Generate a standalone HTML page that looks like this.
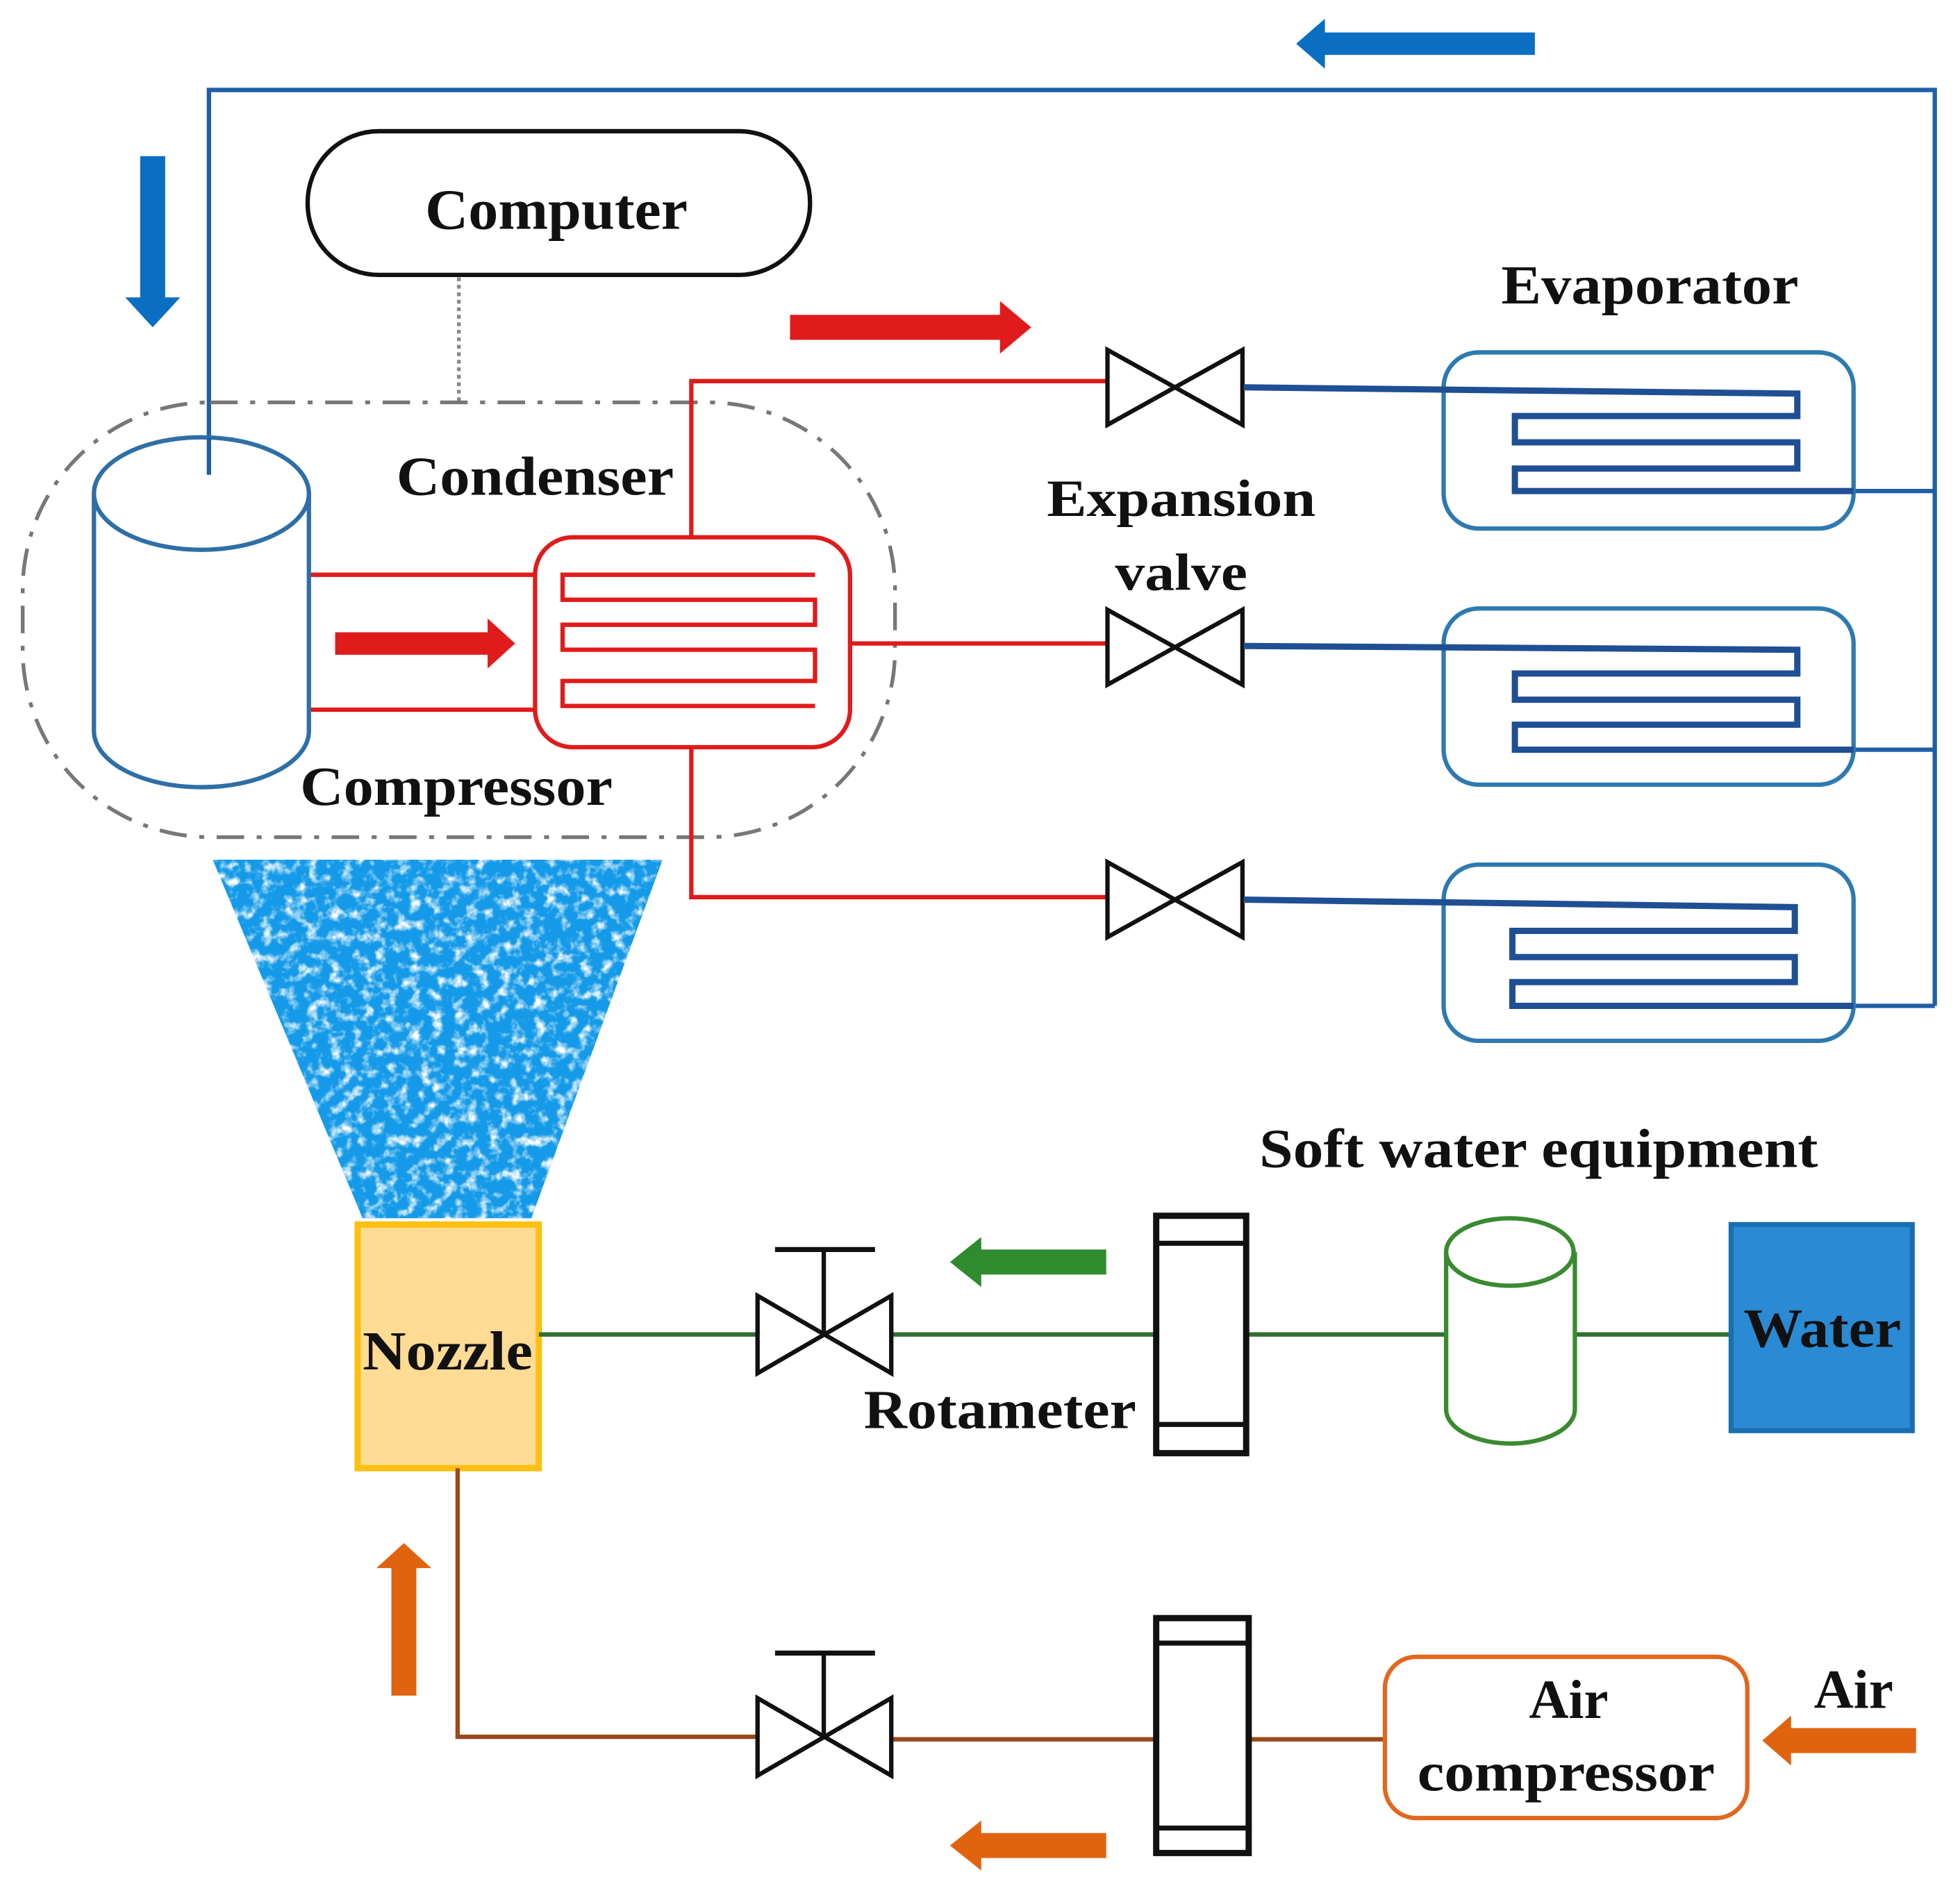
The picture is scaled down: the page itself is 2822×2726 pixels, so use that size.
<!DOCTYPE html>
<html><head><meta charset="utf-8"><style>
html,body{margin:0;padding:0;background:#fff;}
svg{display:block;}
text{font-family:"Liberation Serif",serif;font-weight:bold;fill:#111;}
</style></head><body>
<svg width="2822" height="2726" viewBox="0 0 1568 1515" xmlns="http://www.w3.org/2000/svg">
<defs>
<filter id="noise" x="0" y="0" width="100%" height="100%">
<feTurbulence type="fractalNoise" baseFrequency="0.11" numOctaves="3" seed="7"/>
<feColorMatrix type="matrix" values="0 0 0 0 1  0 0 0 0 1  0 0 0 0 1  0 0 0 3.0 -1.45"/>
</filter>
<clipPath id="cone"><polygon points="170,688 530,688 425,975 290,975"/></clipPath>
</defs>
<rect width="1568" height="1515" fill="#fff"/>

<g stroke="#1f5fa8" stroke-width="3.5" fill="none">
<polyline points="167,380 167,72 1548,72 1548,805"/>
<line x1="1483" y1="393" x2="1548" y2="393"/>
<line x1="1483" y1="600" x2="1548" y2="600"/>
<line x1="1483" y1="805" x2="1548" y2="805"/>
</g>
<polygon points="1228,26 1060,26 1060,15 1037,35 1060,55 1060,44 1228,44" fill="#0a6fc2"/>
<polygon points="112,125 132,125 132,238 144,238 122,262 100,238 112,238" fill="#0a6fc2"/>

<rect x="246" y="105" width="402" height="115" rx="57" fill="#fff" stroke="#111" stroke-width="3.5"/>
<text x="445" y="183" font-size="46" text-anchor="middle" textLength="210" lengthAdjust="spacingAndGlyphs">Computer</text>
<line x1="367" y1="222" x2="367" y2="322" stroke="#888" stroke-width="3" stroke-dasharray="3,3"/>

<rect x="18" y="322" width="698" height="348" rx="150" fill="none" stroke="#777" stroke-width="3" stroke-dasharray="22,10,4,10"/>

<g stroke="#e01b1b" stroke-width="3.5" fill="none">
<line x1="247" y1="460" x2="428" y2="460"/>
<line x1="247" y1="568" x2="428" y2="568"/>
<polyline points="553,430 553,305 885,305"/>
<line x1="680" y1="515" x2="885" y2="515"/>
<polyline points="553,598 553,718 885,718"/>
<rect x="428" y="430" width="252" height="168" rx="30"/>
<polyline points="652,460 450,460 450,480 652,480 652,500 450,500 450,520 652,520 652,545 450,545 450,565 652,565"/>
</g>
<polygon points="268,506 390,506 390,495 412,515 390,535 390,524 268,524" fill="#e01b1b"/>
<polygon points="632,252 800,252 800,241 825,262 800,283 800,272 632,272" fill="#e01b1b"/>

<g stroke="#2e6fa6" stroke-width="3.5" fill="#fff">
<path d="M75,395 L75,585 A86,45 0 0 0 247,585 L247,395"/>
<ellipse cx="161" cy="395" rx="86" ry="45"/>
</g>
<line x1="167" y1="350" x2="167" y2="380" stroke="#1f5fa8" stroke-width="3.5"/>

<text x="428" y="396" font-size="44" text-anchor="middle" textLength="222" lengthAdjust="spacingAndGlyphs">Condenser</text>
<text x="365" y="644" font-size="44" text-anchor="middle" textLength="250" lengthAdjust="spacingAndGlyphs">Compressor</text>

<g stroke="#111" stroke-width="3.5" fill="#fff">
<polygon points="886,280 994,340 994,280 886,340"/>
<polygon points="886,488 994,548 994,488 886,548"/>
<polygon points="886,690 994,750 994,690 886,750"/>
</g>
<text x="945" y="413" font-size="42" text-anchor="middle" textLength="215" lengthAdjust="spacingAndGlyphs">Expansion</text>
<text x="945" y="472" font-size="42" text-anchor="middle" textLength="106" lengthAdjust="spacingAndGlyphs">valve</text>

<text x="1320" y="243" font-size="44" text-anchor="middle" textLength="238" lengthAdjust="spacingAndGlyphs">Evaporator</text>
<g fill="none">
<g stroke="#2e7ab0" stroke-width="3.5">
<rect x="1155" y="282" width="328" height="141" rx="28"/>
<rect x="1155" y="487" width="328" height="141" rx="28"/>
<rect x="1155" y="692" width="328" height="141" rx="28"/>
</g>
<g stroke="#1f4f94" stroke-width="5">
<polyline points="995,310 1438,315 1438,333 1212,333 1212,354 1438,354 1438,375 1212,375 1212,393 1483,393"/>
<polyline points="995,517 1438,520 1438,539 1212,539 1212,560 1438,560 1438,580 1212,580 1212,600 1483,600"/>
<polyline points="995,720 1436,726 1436,745 1210,745 1210,766 1436,766 1436,786 1210,786 1210,805 1483,805"/>
</g>
</g>

<g clip-path="url(#cone)">
<rect x="160" y="680" width="380" height="300" fill="#149ae8"/>
<rect x="160" y="680" width="380" height="300" filter="url(#noise)"/>
</g>

<rect x="286" y="980" width="145" height="195" fill="#ffdb93" stroke="#fcc010" stroke-width="5"/>
<text x="358" y="1096" font-size="44" text-anchor="middle" textLength="136" lengthAdjust="spacingAndGlyphs">Nozzle</text>

<g stroke="#2f6f2f" stroke-width="3.5" fill="none">
<line x1="431" y1="1068" x2="605" y2="1068"/>
<line x1="713" y1="1068" x2="925" y2="1068"/>
<line x1="999" y1="1068" x2="1157" y2="1068"/>
<line x1="1260" y1="1068" x2="1385" y2="1068"/>
</g>
<polygon points="885,1000 785,1000 785,990 760,1010 785,1030 785,1020 885,1020" fill="#2e8b2e"/>
<g stroke="#111" stroke-width="3.5" fill="#fff">
<polygon points="606,1037 713,1099 713,1037 606,1099"/>
<line x1="659" y1="1068" x2="659" y2="1000"/>
<line x1="620" y1="1000" x2="700" y2="1000" stroke-width="4"/>
<rect x="925" y="973" width="72" height="190" stroke-width="5"/>
<line x1="925" y1="995" x2="997" y2="995" stroke-width="4"/>
<line x1="925" y1="1140" x2="997" y2="1140" stroke-width="4"/>
</g>
<text x="800" y="1143" font-size="44" text-anchor="middle" textLength="218" lengthAdjust="spacingAndGlyphs">Rotameter</text>
<text x="1231" y="934" font-size="44" text-anchor="middle" textLength="447" lengthAdjust="spacingAndGlyphs">Soft water equipment</text>
<g stroke="#3a8a30" stroke-width="3.5" fill="#fff">
<path d="M1157,1002 L1157,1128 A51,27 0 0 0 1260,1128 L1260,1002"/>
<ellipse cx="1208" cy="1002" rx="51" ry="27"/>
</g>
<rect x="1385" y="980" width="145" height="165" fill="#2a8ad4" stroke="#1a6fb0" stroke-width="4"/>
<text x="1458" y="1078" font-size="44" text-anchor="middle" textLength="126" lengthAdjust="spacingAndGlyphs">Water</text>

<g stroke="#9a4a1a" stroke-width="3.5" fill="none">
<polyline points="366,1175 366,1390 605,1390"/>
<line x1="713" y1="1392" x2="925" y2="1392"/>
<line x1="999" y1="1392" x2="1108" y2="1392"/>
</g>
<g stroke="#111" stroke-width="3.5" fill="#fff">
<polygon points="606,1359 713,1421 713,1359 606,1421"/>
<line x1="659" y1="1390" x2="659" y2="1323"/>
<line x1="620" y1="1323" x2="700" y2="1323" stroke-width="4"/>
<rect x="925" y="1295" width="74" height="188" stroke-width="5"/>
<line x1="925" y1="1315" x2="999" y2="1315" stroke-width="4"/>
<line x1="925" y1="1463" x2="999" y2="1463" stroke-width="4"/>
</g>
<rect x="1108" y="1326" width="290" height="129" rx="25" fill="#fff" stroke="#e2671f" stroke-width="3.5"/>
<text x="1255" y="1375" font-size="44" text-anchor="middle">Air</text>
<text x="1253" y="1433" font-size="44" text-anchor="middle" textLength="238" lengthAdjust="spacingAndGlyphs">compressor</text>
<text x="1483" y="1367" font-size="44" text-anchor="middle">Air</text>
<g fill="#e0630f">
<polygon points="313,1357 333,1357 333,1255 345,1255 323,1235 301,1255 313,1255"/>
<polygon points="885,1467 785,1467 785,1457 760,1477 785,1497 785,1487 885,1487"/>
<polygon points="1533,1383 1433,1383 1433,1373 1410,1393 1433,1413 1433,1403 1533,1403"/>
</g>
</svg>
</body></html>
